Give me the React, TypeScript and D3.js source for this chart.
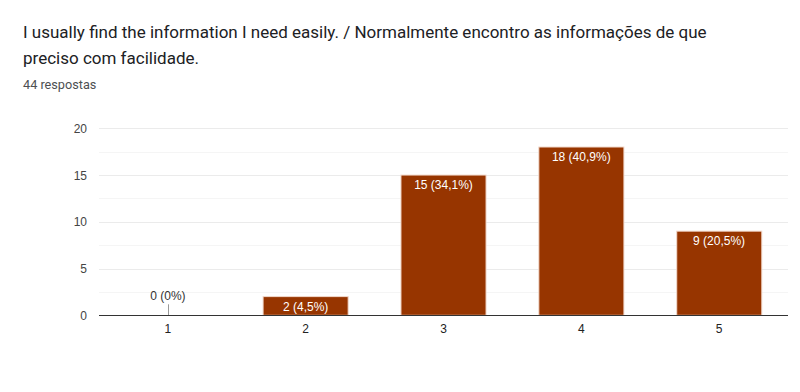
import React, { useEffect, useRef } from 'react';
import * as d3 from 'd3';

const titleLines = [
  'I usually find the information I need easily. / Normalmente encontro as informações de que',
  'preciso com facilidade.',
];
const subtitle = '44 respostas';
const categories = ['1', '2', '3', '4', '5'];
const counts = [0, 2, 15, 18, 9];
const percents = ['0%', '4,5%', '34,1%', '40,9%', '20,5%'];
const yTicks = [0, 5, 10, 15, 20];
const yMinorTicks = [2.5, 7.5, 12.5, 17.5];

export default function App() {
  const svgRef = useRef<SVGSVGElement>(null);

  useEffect(() => {
    document.body.style.margin = '0';
    const svg = d3.select(svgRef.current);
    svg.selectAll('*').remove();

    const W = 800;
    const H = 392;
    const plot = { left: 99, right: 788, top: 128.3, bottom: 315.3 };

    svg.attr('width', W).attr('height', H);
    svg.append('rect').attr('width', W).attr('height', H).attr('fill', '#fff');

    // Titulo
    const title = svg
      .append('text')
      .attr('x', 23)
      .attr('y', 38)
      .style('font-family', 'Roboto, Arial, sans-serif')
      .style('font-size', '17px')
      .style('fill', '#202124');
    titleLines.forEach((l, i) => {
      title.append('tspan').attr('x', 23).attr('dy', i === 0 ? 0 : 26).text(l);
    });

    svg
      .append('text')
      .attr('x', 23)
      .attr('y', 88.5)
      .style('font-family', 'Roboto, Arial, sans-serif')
      .style('font-size', '12.7px')
      .style('fill', '#4d4f52')
      .text(subtitle);

    // Escalas
    const x = d3
      .scaleBand<string>()
      .domain(categories)
      .range([plot.left, plot.right])
      .paddingInner(0.383)
      .paddingOuter(0.19);
    const xc = d3.scaleBand<string>().domain(categories).range([plot.left, plot.right]);

    const y = d3.scaleLinear().domain([0, 20]).range([plot.bottom, plot.top]);

    const g = svg.append('g').style('font-family', 'Arial, "Liberation Sans", sans-serif');

    // Grade
    g.selectAll('.minor')
      .data(yMinorTicks)
      .enter()
      .append('line')
      .attr('x1', plot.left)
      .attr('x2', plot.right)
      .attr('y1', d => Math.round(y(d)) + 0.5)
      .attr('y2', d => Math.round(y(d)) + 0.5)
      .attr('stroke', '#f5f5f5');

    g.selectAll('.major')
      .data(yTicks.filter(d => d > 0))
      .enter()
      .append('line')
      .attr('x1', plot.left)
      .attr('x2', plot.right)
      .attr('y1', d => Math.round(y(d)) + 0.5)
      .attr('y2', d => Math.round(y(d)) + 0.5)
      .attr('stroke', '#ebebeb');

    // Rotulos do eixo Y
    g.selectAll('.ylab')
      .data(yTicks)
      .enter()
      .append('text')
      .attr('x', 87)
      .attr('y', d => y(d) + 4.5)
      .attr('text-anchor', 'end')
      .style('font-size', '12px')
      .style('fill', '#444')
      .text(d => d);

    // Barras
    const bars = categories.map((c, i) => ({ c, v: counts[i], p: percents[i] }));

    g.selectAll('.bar')
      .data(bars.filter(d => d.v > 0))
      .enter()
      .append('rect')
      .attr('x', d => x(d.c)!)
      .attr('y', d => y(d.v))
      .attr('width', x.bandwidth())
      .attr('height', d => y(0) - y(d.v))
      .attr('fill', '#973500')
      .attr('stroke', '#f2d9cc')
      .attr('stroke-width', 1);

    g.selectAll('.barlab')
      .data(bars)
      .enter()
      .append('text')
      .attr('x', d => xc(d.c)! + xc.bandwidth() / 2)
      .attr('y', d => (d.v > 0 ? y(d.v) + 14 : y(0) - 15))
      .attr('text-anchor', 'middle')
      .style('font-size', '12px')
      .style('fill', d => (d.v > 0 ? '#fff' : '#333'))
      .text(d => `${d.v} (${d.p})`);

    // marca da barra zero
    g.selectAll('.zero')
      .data(bars.filter(d => d.v === 0))
      .enter()
      .append('line')
      .attr('x1', d => Math.round(xc(d.c)! + xc.bandwidth() / 2) + 0.5)
      .attr('x2', d => Math.round(xc(d.c)! + xc.bandwidth() / 2) + 0.5)
      .attr('y1', y(0))
      .attr('y2', y(0) - 11)
      .attr('stroke', '#999');

    // Eixo
    g.append('line')
      .attr('x1', plot.left)
      .attr('x2', plot.right)
      .attr('y1', Math.round(y(0)) + 0.5)
      .attr('y2', Math.round(y(0)) + 0.5)
      .attr('stroke', '#333');

    g.selectAll('.xlab')
      .data(categories)
      .enter()
      .append('text')
      .attr('x', d => xc(d)! + xc.bandwidth() / 2)
      .attr('y', 333)
      .attr('text-anchor', 'middle')
      .style('font-size', '12px')
      .style('fill', '#222')
      .text(d => d);
  }, []);

  return <svg ref={svgRef} style={{ display: 'block' }}></svg>;
}
